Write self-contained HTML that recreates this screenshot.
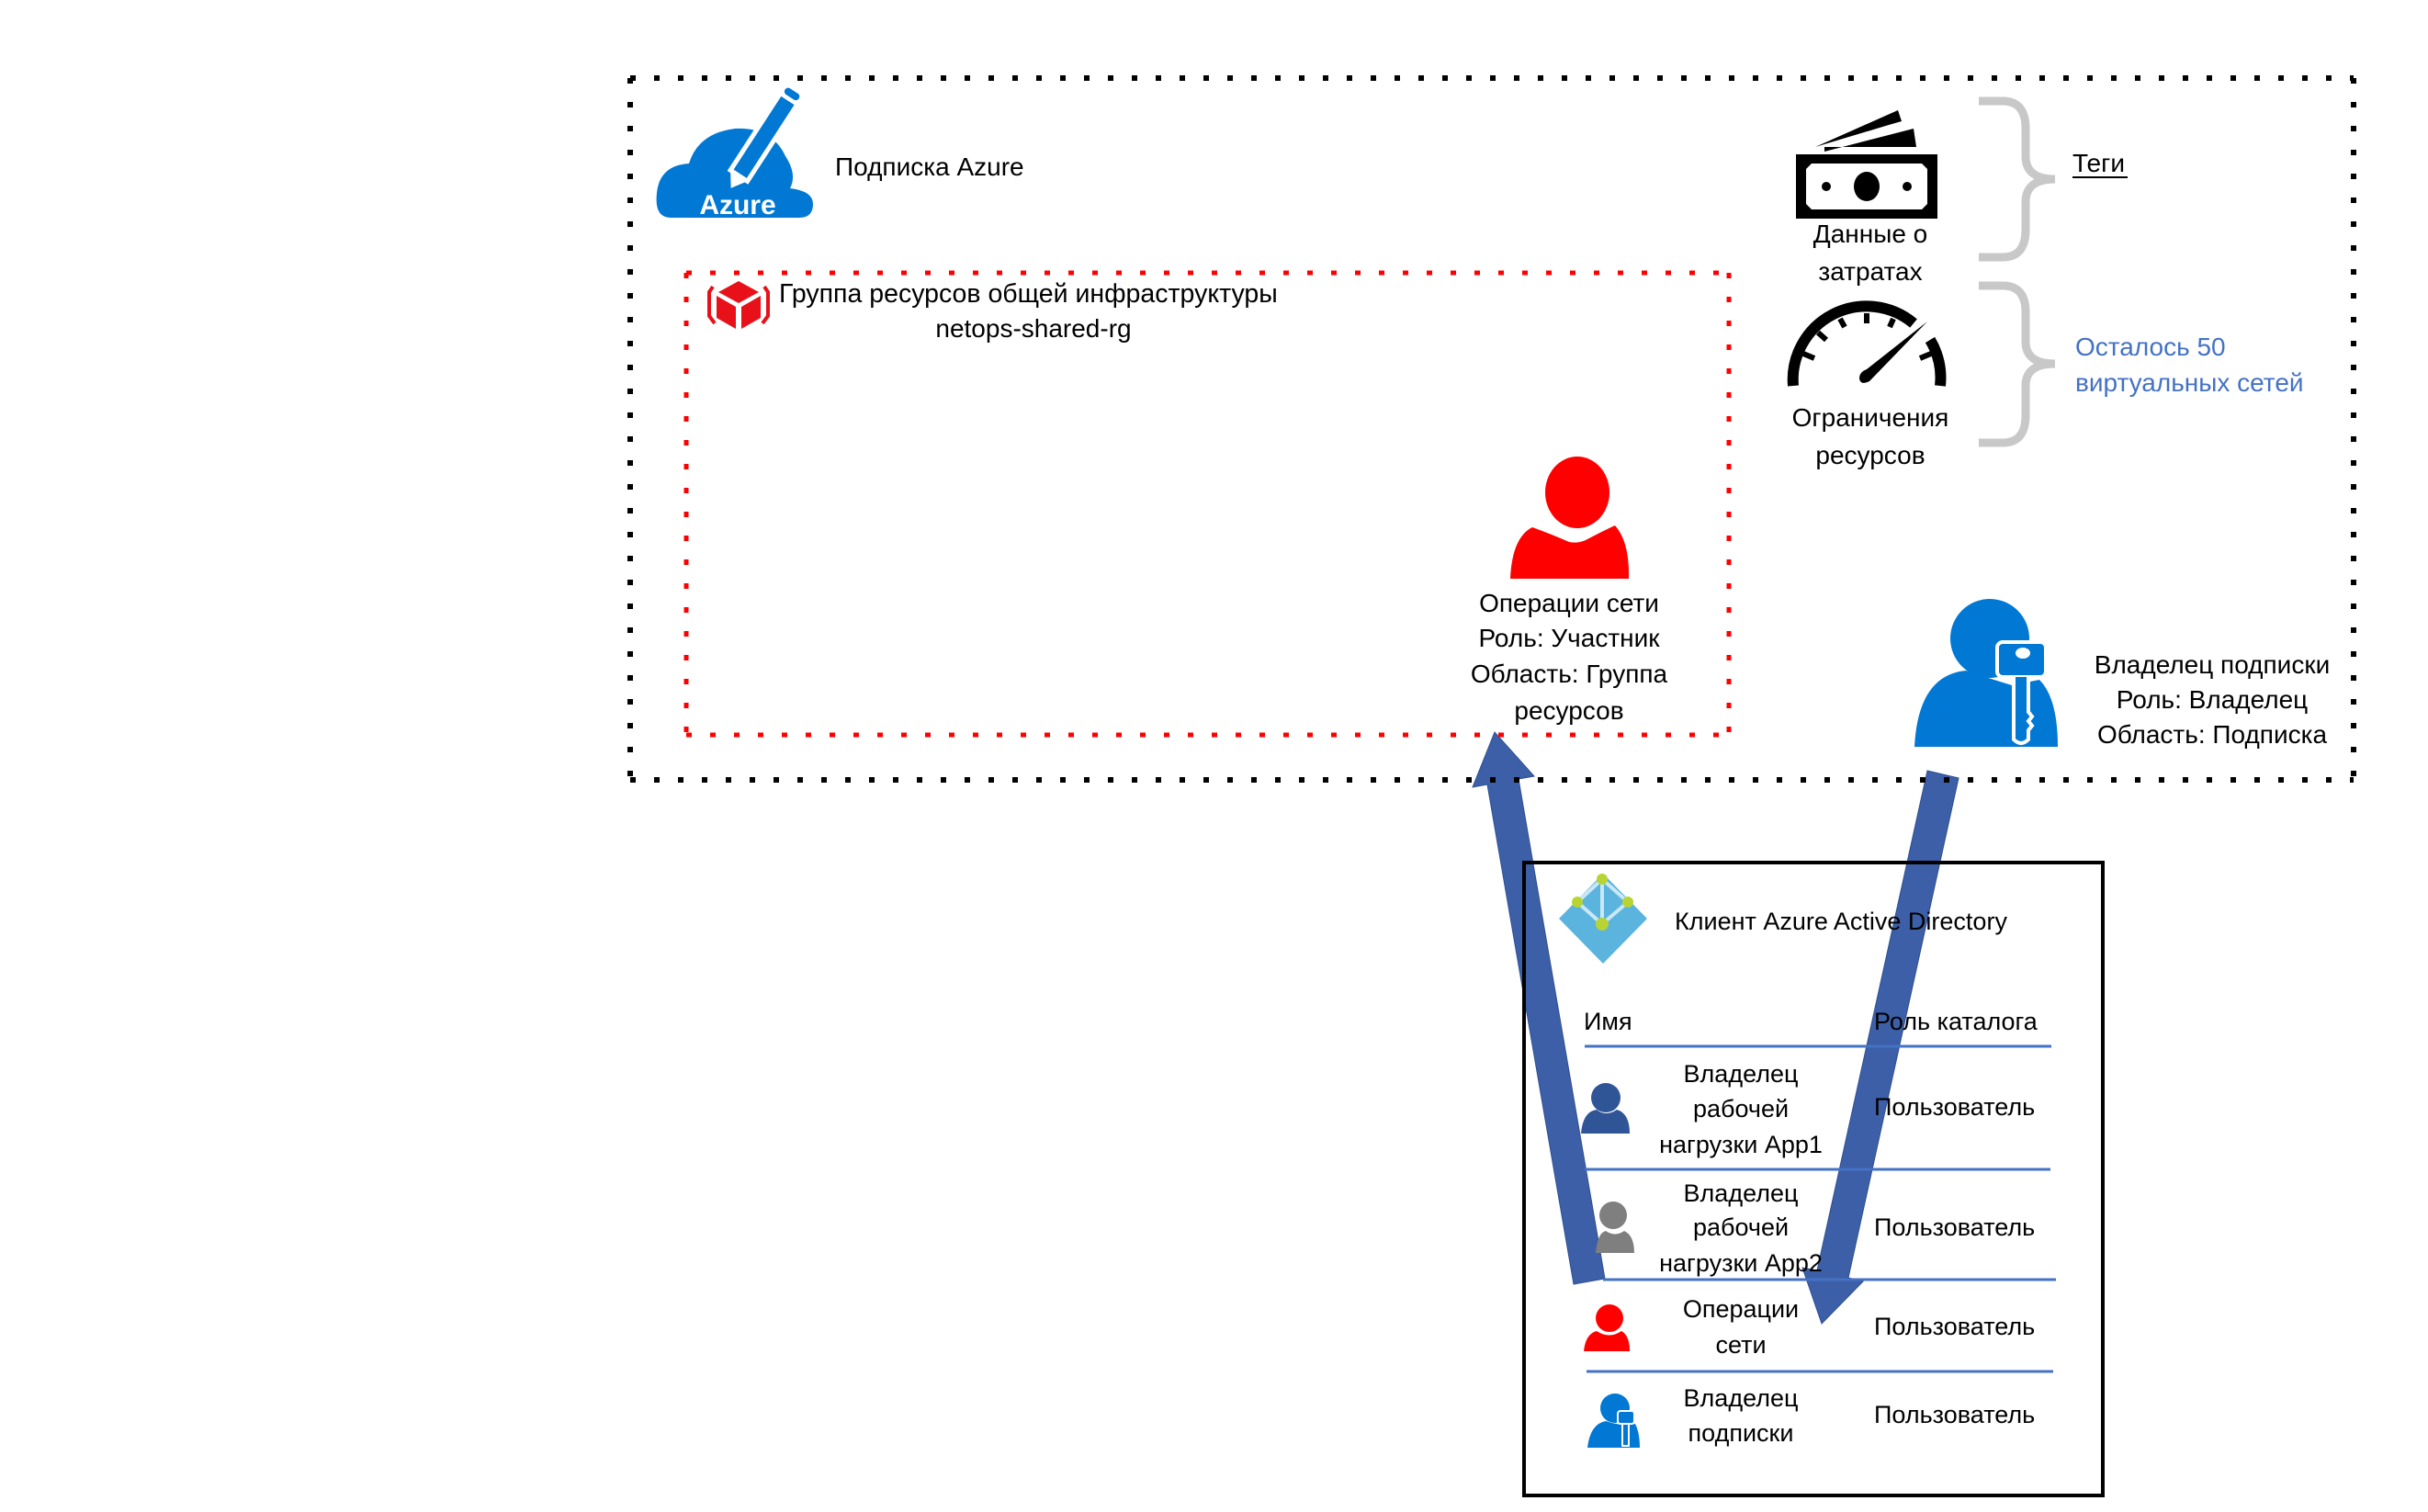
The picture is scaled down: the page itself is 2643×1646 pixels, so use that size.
<!DOCTYPE html>
<html><head><meta charset="utf-8"><style>
html,body{margin:0;padding:0;background:#fff;}
svg{display:block;}
text{font-family:"Liberation Sans",sans-serif;fill:#000;}
</style></head><body>
<svg width="2643" height="1646" viewBox="0 0 2643 1646" xmlns="http://www.w3.org/2000/svg">
<!-- arrows (beneath text) -->
<path d="M1747 1392 L1653 848 L1670 845 L1627 797 L1603 857 L1619 854 L1713 1398 Z" fill="#3c5fa8" stroke="#2f4f8f" stroke-width="1"/>
<path d="M2132 847 L2012 1391 L2028 1395 L1983 1441 L1962 1380 L1978 1383 L2098 839 Z" fill="#3c5fa8" stroke="#2f4f8f" stroke-width="1"/>
<!-- outer black dotted -->
<g stroke="#000" stroke-width="6" stroke-dasharray="6 20" fill="none">
<line x1="686" y1="85" x2="2562" y2="85"/>
<line x1="686" y1="849" x2="2562" y2="849"/>
<line x1="686" y1="85" x2="686" y2="849"/>
<line x1="2562" y1="85" x2="2562" y2="849"/>
</g>
<!-- red dotted -->
<g stroke="#f00" stroke-width="5" stroke-dasharray="6 20" fill="none">
<line x1="747" y1="297" x2="1882" y2="297"/>
<line x1="747" y1="800" x2="1882" y2="800"/>
<line x1="747" y1="297" x2="747" y2="800"/>
<line x1="1882" y1="297" x2="1882" y2="800"/>
</g>
<!-- Azure icon -->
<path d="M730 237 Q712 237 715 210 Q718 180 750 178 Q760 145 800 140 Q840 138 855 170 Q868 190 860 205 Q885 208 885 222 Q885 237 870 237 Z" fill="#0078d4"/>
<g transform="translate(800,198) rotate(-57)">
<rect x="8" y="-11" width="100" height="22" fill="#0078d4" stroke="#fff" stroke-width="5"/>
<rect x="108" y="-11" width="12" height="22" rx="6" fill="#0078d4" stroke="#fff" stroke-width="4"/>
<path d="M8 -11 L-8 0 L8 11 Z" fill="#fff"/>
</g>
<text x="803" y="233" text-anchor="middle" font-size="30" font-weight="bold" style="fill:#fff">Azure</text>
<text x="909" y="191" font-size="28">Подписка Azure</text>
<!-- cube icon -->
<g fill="none" stroke="#e8111a" stroke-width="4">
<path d="M776 312 L772 318 L772 344 L778 352"/><path d="M832 312 L836 318 L836 344 L830 352"/>
</g>
<path d="M804 306 L826 318 L804 330 L782 318 Z" fill="#e8111a"/>
<path d="M780 322 L801 334 L801 358 L780 346 Z" fill="#e8111a"/>
<path d="M828 322 L807 334 L807 358 L828 346 Z" fill="#e8111a"/>
<text x="848" y="329" font-size="28.5">Группа ресурсов общей инфраструктуры</text>
<text x="1125" y="367" text-anchor="middle" font-size="28">netops-shared-rg</text>
<!-- red person -->
<ellipse cx="1717" cy="536" rx="35" ry="39" fill="#f00"/>
<path d="M1644 630 Q1646 585 1668 574 Q1690 582 1708 590 Q1717 592 1726 588 Q1745 578 1758 572 Q1774 590 1773 630 Z" fill="#f00"/>
<g font-size="28" text-anchor="middle">
<text x="1708" y="666">Операции сети</text>
<text x="1708" y="704">Роль: Участник</text>
<text x="1708" y="743">Область: Группа</text>
<text x="1708" y="783">ресурсов</text>
</g>
<!-- money -->
<path d="M1976 160 L2066 120 L2070 132 L2056 136 Z" fill="#000"/>
<path d="M1986 165 L2083 140 L2086 160 L1986 160 Z" fill="#000"/>
<rect x="1955" y="168" width="154" height="70" fill="#000"/>
<path d="M1966 184 L1972 178 L2092 178 L2098 184 L2098 222 L2092 228 L1972 228 L1966 222 Z" fill="#fff"/>
<ellipse cx="2032" cy="203" rx="14" ry="16" fill="#000"/>
<circle cx="1988" cy="203" r="5" fill="#000"/><circle cx="2076" cy="203" r="5" fill="#000"/>
<g font-size="28" text-anchor="middle">
<text x="2036" y="264">Данные о</text>
<text x="2036" y="305">затратах</text>
</g>
<!-- gauge -->
<path d="M1952 420 A80 80 0 0 1 2083 352" fill="none" stroke="#000" stroke-width="12"/>
<path d="M2101 370 A80 80 0 0 1 2112 420" fill="none" stroke="#000" stroke-width="12"/>
<g stroke="#000" stroke-width="6">
<line x1="1963" y1="385" x2="1975" y2="390"/><line x1="1979" y1="362" x2="1988" y2="370"/>
<line x1="2003" y1="347" x2="2008" y2="356"/><line x1="2032" y1="341" x2="2032" y2="352"/>
<line x1="2061" y1="347" x2="2057" y2="356"/><line x1="2102" y1="385" x2="2090" y2="390"/>
</g>
<path d="M2098 350 L2035 415 Q2025 420 2024 412 Q2024 405 2032 402 Z" fill="#000"/>
<g font-size="28" text-anchor="middle">
<text x="2036" y="464">Ограничения</text>
<text x="2036" y="505">ресурсов</text>
</g>
<!-- braces -->
<g fill="none" stroke="#c8c8c8" stroke-width="9">
<path d="M2154 110 L2180 110 Q2205 110 2205 140 L2205 170 Q2205 195 2237 195 Q2205 195 2205 220 L2205 250 Q2205 280 2180 280 L2154 280"/>
<path d="M2154 311 L2180 311 Q2205 311 2205 340 L2205 372 Q2205 396 2237 396 Q2205 396 2205 420 L2205 452 Q2205 482 2180 482 L2154 482"/>
</g>
<text x="2256" y="187" font-size="28">Теги</text>
<line x1="2256" y1="193" x2="2316" y2="193" stroke="#000" stroke-width="2"/>
<text x="2259" y="387" font-size="28" style="fill:#4472c4">Осталось 50</text>
<text x="2259" y="426" font-size="28" style="fill:#4472c4">виртуальных сетей</text>
<!-- owner icon -->
<circle cx="2166" cy="695" r="43" fill="#0078d4"/>
<path d="M2084 813 Q2088 735 2140 730 Q2170 740 2190 746 L2220 740 Q2240 760 2240 813 Z" fill="#0078d4"/>
<rect x="2174" y="699" width="53" height="38" rx="6" fill="#0078d4" stroke="#fff" stroke-width="4"/>
<ellipse cx="2202" cy="711" rx="8" ry="6" fill="#fff"/>
<path d="M2192 737 L2192 805 Q2200 813 2208 805 L2208 795 L2212 790 L2208 785 L2212 780 L2208 775 L2208 737" fill="#0078d4" stroke="#fff" stroke-width="4"/>
<g font-size="28" text-anchor="middle">
<text x="2408" y="733">Владелец подписки</text>
<text x="2408" y="771">Роль: Владелец</text>
<text x="2408" y="809">Область: Подписка</text>
</g>
<!-- AAD box -->
<rect x="1659" y="939" width="630" height="689" fill="none" stroke="#000" stroke-width="4"/>
<path d="M1745 951 L1793 1000 L1745 1049 L1697 1000 Z" fill="#5ab4dd"/>
<g stroke="#c9e7f5" stroke-width="4"><line x1="1744" y1="957" x2="1744" y2="1006"/><line x1="1744" y1="957" x2="1717" y2="982"/><line x1="1744" y1="957" x2="1772" y2="982"/><line x1="1717" y1="982" x2="1744" y2="1006"/><line x1="1772" y1="982" x2="1744" y2="1006"/></g>
<g fill="#b8d432"><circle cx="1744" cy="957" r="6"/><circle cx="1717" cy="982" r="6"/><circle cx="1772" cy="982" r="6"/><circle cx="1744" cy="1006" r="7"/></g>
<text x="1823" y="1012" font-size="27">Клиент Azure Active Directory</text>
<text x="1724" y="1121" font-size="27">Имя</text>
<text x="2040" y="1121" font-size="27">Роль каталога</text>
<g stroke="#4472c4" stroke-width="3">
<line x1="1725" y1="1139" x2="2233" y2="1139"/>
<line x1="1725" y1="1273" x2="2232" y2="1273"/>
<line x1="1745" y1="1393" x2="2238" y2="1393"/>
<line x1="1727" y1="1493" x2="2235" y2="1493"/>
</g>
<!-- row icons -->
<circle cx="1748" cy="1195" r="16" fill="#2f5597"/><path d="M1721 1234 Q1723 1210 1738 1208 Q1748 1216 1760 1208 Q1774 1212 1774 1234 Z" fill="#2f5597"/>
<circle cx="1756" cy="1323" r="15" fill="#7f7f7f"/><path d="M1737 1364 Q1739 1342 1748 1340 Q1758 1347 1768 1340 Q1779 1345 1779 1364 Z" fill="#7f7f7f"/>
<circle cx="1752" cy="1435" r="15" fill="#f00"/><path d="M1724 1471 Q1726 1452 1738 1449 Q1752 1458 1765 1449 Q1774 1454 1774 1471 Z" fill="#f00"/>
<circle cx="1758" cy="1533" r="16" fill="#0078d4"/><path d="M1728 1576 Q1731 1550 1748 1547 Q1765 1553 1780 1550 Q1785 1560 1785 1576 Z" fill="#0078d4"/>
<rect x="1761" y="1536" width="18" height="14" rx="3" fill="#0078d4" stroke="#fff" stroke-width="2"/>
<rect x="1766" y="1550" width="7" height="24" fill="#0078d4" stroke="#fff" stroke-width="2"/>
<g font-size="27" text-anchor="middle">
<text x="1895" y="1178">Владелец</text>
<text x="1895" y="1216">рабочей</text>
<text x="1895" y="1255">нагрузки App1</text>
<text x="1895" y="1308">Владелец</text>
<text x="1895" y="1345">рабочей</text>
<text x="1895" y="1384">нагрузки App2</text>
<text x="1895" y="1434">Операции</text>
<text x="1895" y="1473">сети</text>
<text x="1895" y="1531">Владелец</text>
<text x="1895" y="1569">подписки</text>
</g>
<g font-size="27">
<text x="2040" y="1214">Пользователь</text>
<text x="2040" y="1345">Пользователь</text>
<text x="2040" y="1453">Пользователь</text>
<text x="2040" y="1549">Пользователь</text>
</g>
</svg>
</body></html>
